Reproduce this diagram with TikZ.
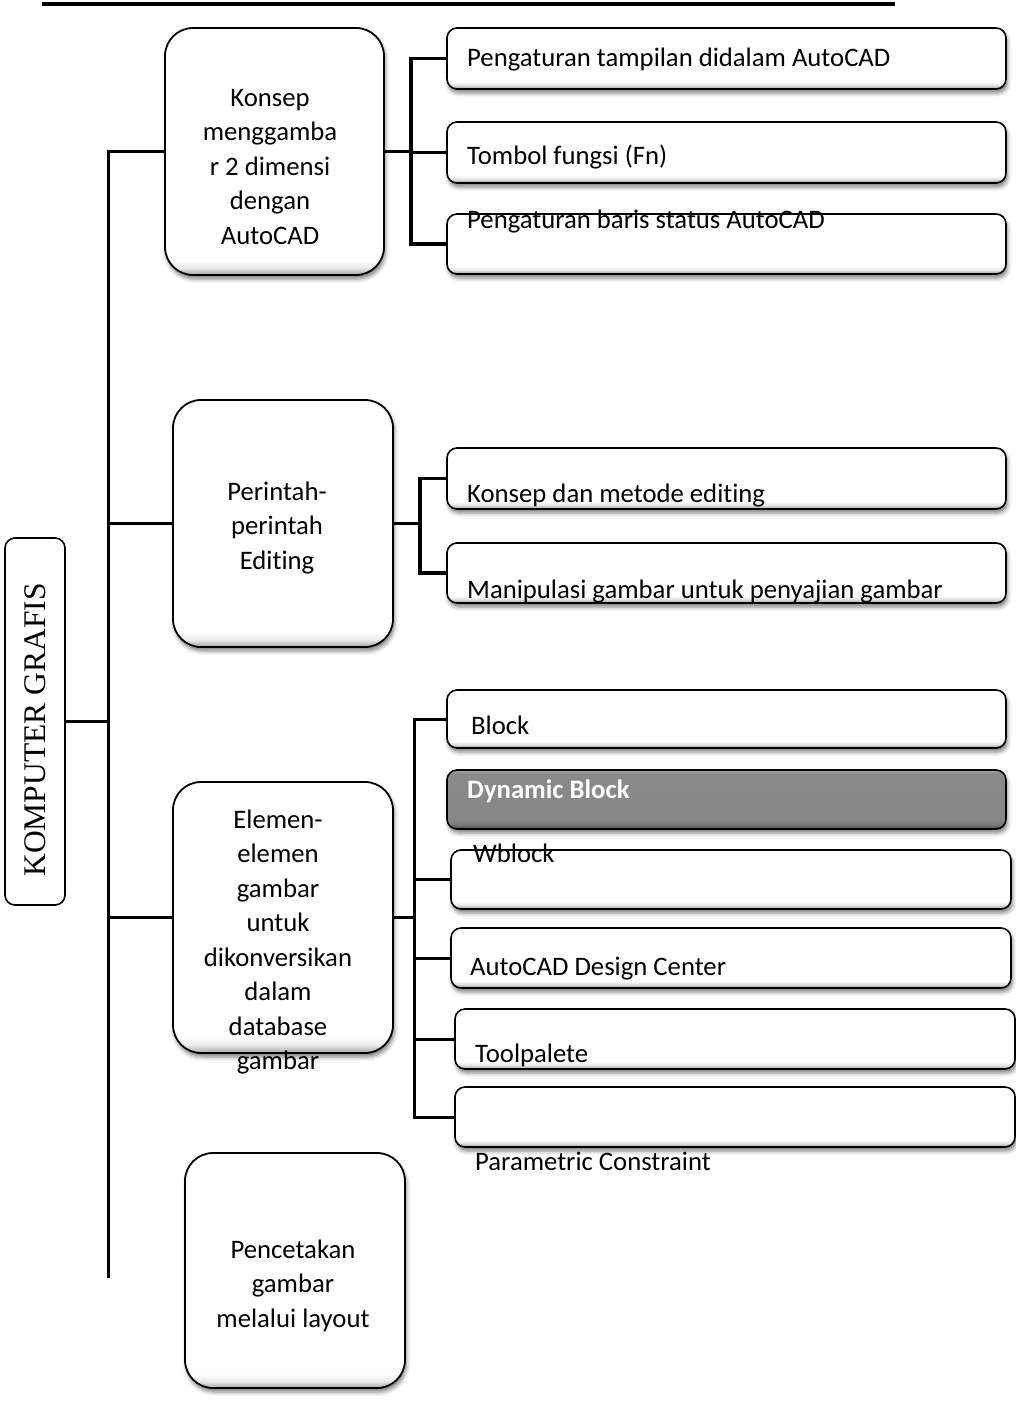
\documentclass[tikz,border=0pt]{standalone}
\usepackage{fontspec}
\setmainfont{Carlito}[Ligatures=NoCommon]
\newfontfamily\rootfont{Liberation Serif}
\usetikzlibrary{shadows.blur}

% bevel shadings: path bottom sits at 25bp, path top at 75bp
\pgfdeclareverticalshading{bevelsub}{100bp}{color(0bp)=(black!42); color(25bp)=(black!42); color(28bp)=(black!12); color(31bp)=(white); color(100bp)=(white)}
\pgfdeclareverticalshading{bevelmain}{100bp}{color(0bp)=(black!35); color(25bp)=(black!35); color(26.5bp)=(black!8); color(28bp)=(white); color(100bp)=(white)}
\pgfdeclareverticalshading{bevelgray}{100bp}{color(0bp)=(black!70); color(25bp)=(black!70); color(29bp)=(black!52); color(33bp)=(black!47); color(72bp)=(black!46); color(75bp)=(black!36); color(100bp)=(black!36)}

\tikzset{
  softshadow/.style={blur shadow={shadow xshift=1.5pt, shadow yshift=-4pt, shadow blur radius=4pt, shadow opacity=50}},
  mainbox/.style={draw=black, line width=1.8pt, rounded corners=28pt, shade, shading=bevelmain,
    softshadow, minimum width=220pt, inner sep=0pt},
  subbox/.style={draw=black, line width=1.6pt, rounded corners=10pt, shade, shading=bevelsub,
    softshadow, minimum width=559pt, minimum height=60pt, inner sep=0pt},
  darkbox/.style={subbox, shading=bevelgray},
  rootbox/.style={draw=black, line width=1.6pt, rounded corners=10pt, fill=white,
    minimum width=60pt, minimum height=367pt, inner sep=0pt},
  conn/.style={line width=3pt},
  brk/.style={line width=3.5pt},
  txt/.style={font=\fontsize{26.7pt}{34.5pt}\selectfont, inner sep=0pt},
  leaf/.style={txt, anchor=base west},
  blocktxt/.style={txt, anchor=north, align=center},
}
\newcommand\firststrut{\rule{0pt}{25pt}}

\begin{document}
\begin{tikzpicture}[x=1pt, y=-1pt]
\useasboundingbox (0,0) rectangle (1016,1403);

% heading rule
\coordinate (ruleL) at (42,4);
\coordinate (ruleR) at (895,4);
\draw[line width=4pt] (ruleL) -- (ruleR);

% root
\node[rootbox] (root) at (35,721.5) {};

% main topics
\node[mainbox, minimum width=219pt, minimum height=247pt] (b1) at (274.5,151.5) {};
\node[mainbox, minimum height=247pt] (b2) at (283,523.5) {};
\node[mainbox, minimum height=271pt] (b3) at (283,917.5) {};
\node[mainbox, minimum height=235pt] (b4) at (295,1270.5) {};

% sub topics
\node[subbox, minimum height=61pt] (c1) at (726.5,58.5) {};
\node[subbox, minimum height=61pt] (c2) at (726.5,152.5) {};
\node[subbox] (c3) at (726.5,244) {};
\node[subbox, minimum height=61pt] (c4) at (726.5,478.5) {};
\node[subbox] (c5) at (726.5,573) {};
\node[subbox, minimum height=58pt] (d1) at (726.5,719) {};
\node[darkbox, minimum height=59pt] (d2) at (726.5,799.5) {};
\node[subbox, minimum width=560pt, minimum height=59pt] (d3) at (731,879.5) {};
\node[subbox, minimum width=560pt] (d4) at (731,958) {};
\node[subbox, minimum width=560pt] (d5) at (735,1039) {};
\node[subbox, minimum width=560pt] (d6) at (735,1117) {};

% trunk
\coordinate (tBot) at (108,1278);
\draw[conn] (b1.west) -| (tBot);
\draw[conn] (root.east) -- (root.east -| tBot);
\draw[conn] (b2.west) -- (b2.west -| tBot);
\draw[conn] (b3.west) -- (b3.west -| tBot);

% branch 1
\coordinate (k1) at (411,151.5);
\draw[conn] (b1.east) -- (k1);
\draw[brk] (c1.west) -| (k1) |- (c3.west);
\draw[brk] (c2.west) -- (c2.west -| k1);

% branch 2
\coordinate (k2) at (420,523.5);
\draw[conn] (b2.east) -- (k2);
\draw[brk] (c4.west) -| (k2) |- (c5.west);

% branch 3
\coordinate (k3) at (414,917.5);
\draw[conn] (b3.east) -- (k3);
\draw[conn] (d1.west) -| (k3) |- (d6.west);
\draw[conn] (d3.west) -- (d3.west -| k3);
\draw[conn] (d4.west) -- (d4.west -| k3);
\draw[conn] (d5.west) -- (d5.west -| k3);

% labels
\node[rotate=90, inner sep=0pt, font=\rootfont\fontsize{31.5pt}{36pt}\selectfont] (roott) at (35,730) {KOMPUTER GRAFIS};

\node[blocktxt] (b1t) at (270,81) {\firststrut Konsep\\menggamba\\r 2 dimensi\\dengan\\AutoCAD};
\node[blocktxt] (b2t) at (277,475) {\firststrut Perintah-\\perintah\\Editing};
\node[blocktxt] (b3t) at (278,803) {\firststrut Elemen-\\elemen\\gambar\\untuk\\dikonversikan\\dalam\\database\\gambar};
\node[blocktxt] (b4t) at (293,1233) {\firststrut Pencetakan\\gambar\\melalui layout};

\node[leaf] (c1t) at (467,66) {Pengaturan tampilan didalam AutoCAD};
\node[leaf] (c2t) at (467,164) {Tombol fungsi (Fn)};
\node[leaf] (c3t) at (467,228) {Pengaturan baris status AutoCAD};
\node[leaf] (c4t) at (467,502) {Konsep dan metode editing};
\node[leaf] (c5t) at (467,598) {Manipulasi gambar untuk penyajian gambar};
\node[leaf] (d1t) at (471,734) {Block};
\node[leaf, text=white, font=\fontsize{26.7pt}{34.5pt}\selectfont\bfseries] (d2t) at (467,798) {Dynamic Block};
\node[leaf] (d3t) at (473,862) {Wblock};
\node[leaf] (d4t) at (470,975) {AutoCAD Design Center};
\node[leaf] (d5t) at (475,1062) {Toolpalete};
\node[leaf] (d6t) at (475,1170) {Parametric Constraint};
\end{tikzpicture}
\end{document}
